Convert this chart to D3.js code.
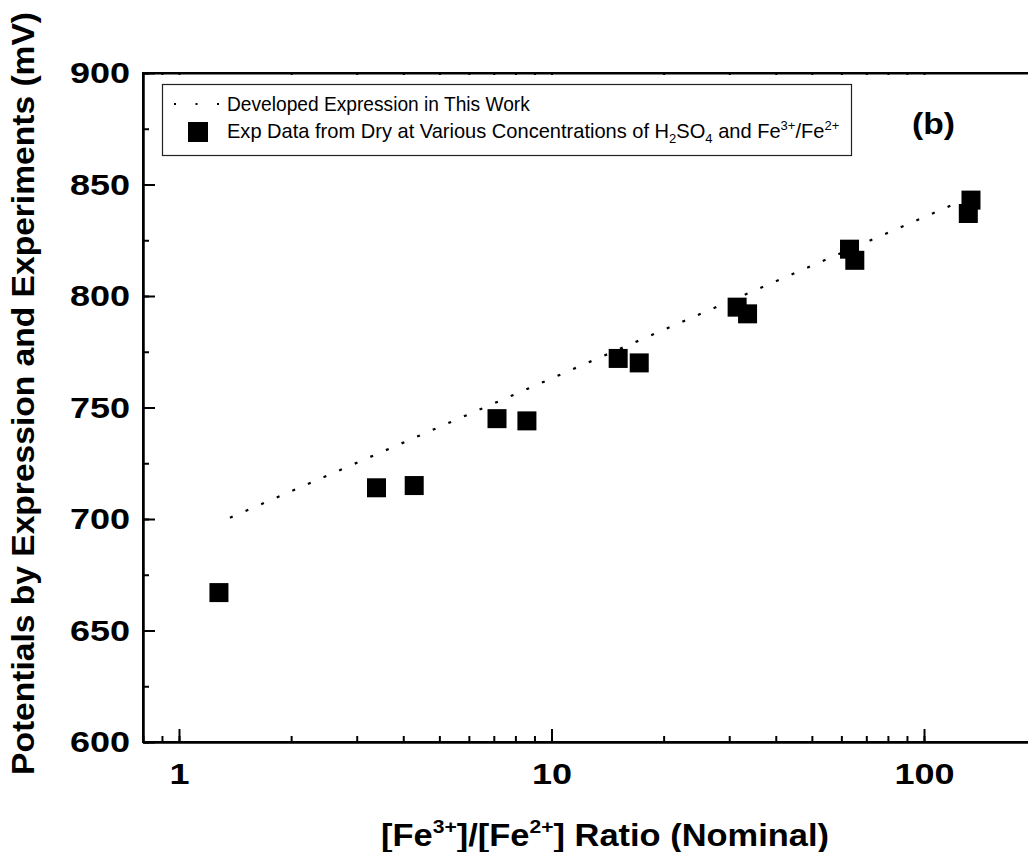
<!DOCTYPE html>
<html><head><meta charset="utf-8">
<script src="https://cdn.jsdelivr.net/npm/d3@7"></script>
<style>
html,body{margin:0;padding:0;background:#fff;}
svg{display:block;font-family:"Liberation Sans",Arial,sans-serif;}
</style></head>
<body>
<svg id="chart" width="1028" height="852"></svg>
<script>
// ---- data ----
const ratio     = [1.28, 3.39, 4.28, 7.14, 8.59, 15.1, 17.2, 31.5, 33.6, 63.1, 65.2, 131.5, 133.7];
const potential = [667, 714, 715, 745, 744, 772, 770, 795, 792, 821, 816, 837, 843];
const exprRatio     = [1.37, 133];
const exprPotential = [700.6, 844.3];
const xTickValues = [1, 10, 100];
const yTickValues = [600, 650, 700, 750, 800, 850, 900];
const xDomain = [0.8, 200];
const yDomain = [600, 900];

const svg = d3.select("#chart");
const plotLeft = 143, plotTop = 73, plotBottom = 742;
const decade = 372.5;
const x = d3.scaleLog().domain(xDomain)
  .range([179 + decade*Math.log10(xDomain[0]), 179 + decade*Math.log10(xDomain[1])]);
const y = d3.scaleLinear().domain(yDomain).range([plotBottom, plotTop]);

// horizontally stretch a text element to a target width, keeping its anchor point
function fitWidth(sel, target) {
  sel.each(function() {
    const w = this.getBBox().width;
    const bb = this.getBBox();
    const anchor = this.getAttribute("text-anchor") || d3.select(this).style("text-anchor");
    let ax = bb.x;
    if (anchor === "middle") ax = bb.x + bb.width/2;
    else if (anchor === "end") ax = bb.x + bb.width;
    const s = target / w;
    d3.select(this).attr("transform", `translate(${ax},0) scale(${s},1) translate(${-ax},0)`);
  });
}

// minor ticks
const xMinor = [];
for (let d = 0.1; d <= 100; d *= 10) for (let k = 1; k <= 9; k++) { const v = +(d*k).toPrecision(3); if (v >= xDomain[0] && v <= xDomain[1]) xMinor.push(v); }
const yMinor = d3.range(yDomain[0], yDomain[1] + 1, 25);

const g = svg.append("g");

// expression line
g.append("path")
  .datum(exprRatio.map((r,i)=>[r, exprPotential[i]]))
  .attr("d", d3.line().x(d=>x(d[0])).y(d=>y(d[1])))
  .attr("fill","none").attr("stroke","#000").attr("stroke-width",2.2)
  .attr("stroke-dasharray","3,14");

// squares
const sq = 19;
g.selectAll("rect.pt").data(ratio.map((r,i)=>[r, potential[i]])).join("rect")
  .attr("class","pt")
  .attr("x", d=>x(d[0]) - sq/2).attr("y", d=>y(d[1]) - sq/2)
  .attr("width", sq).attr("height", sq).attr("fill","#000");

// axes
const axisW = 2;
const xAxis = svg.append("g").attr("transform",`translate(0,${plotBottom})`)
  .call(d3.axisBottom(x).tickValues(xMinor).tickSizeInner(-6).tickSizeOuter(0).tickFormat(""));
const xAxisMaj = svg.append("g").attr("transform",`translate(0,${plotBottom})`)
  .call(d3.axisBottom(x).tickValues(xTickValues).tickSizeInner(-13).tickSizeOuter(0).tickPadding(21).tickFormat(d3.format("d")));
const xTop = svg.append("g").attr("transform",`translate(0,${plotTop})`)
  .call(d3.axisTop(x).tickValues(xMinor).tickSizeInner(-2).tickSizeOuter(0).tickFormat(""));
const yAxis = svg.append("g").attr("transform",`translate(${plotLeft},0)`)
  .call(d3.axisLeft(y).tickValues(yMinor).tickSizeInner(-6).tickSizeOuter(0).tickFormat(""));
const yAxisMaj = svg.append("g").attr("transform",`translate(${plotLeft},0)`)
  .call(d3.axisLeft(y).tickValues(yTickValues).tickSizeInner(-12).tickSizeOuter(0).tickPadding(13).tickFormat(d3.format("d")));

[xAxis,xAxisMaj,xTop,yAxis,yAxisMaj].forEach(a=>{
  a.selectAll("path.domain").attr("stroke","#000").attr("stroke-width",axisW);
  a.selectAll("line").attr("stroke","#000").attr("stroke-width",2);
});
[xAxisMaj, yAxisMaj].forEach(a=>{
  a.selectAll("text").attr("font-size",30).attr("font-weight","bold").attr("fill","#000")
    .attr("font-family","Liberation Sans, Arial, sans-serif")
    .attr("transform", function(){ const tx = +this.getAttribute("x") || 0; return `translate(${tx},0) scale(1.2,1) translate(${-tx},0)`; });
});
svg.append("line").attr("x1",plotLeft).attr("x2",1028).attr("y1",plotBottom).attr("y2",plotBottom).attr("stroke","#000").attr("stroke-width",axisW);
svg.append("line").attr("x1",plotLeft).attr("x2",1028).attr("y1",plotTop).attr("y2",plotTop).attr("stroke","#000").attr("stroke-width",axisW);
svg.append("line").attr("x1",plotLeft).attr("x2",plotLeft).attr("y1",plotTop-1).attr("y2",plotBottom+1).attr("stroke","#000").attr("stroke-width",axisW);

// axis titles
const xt = svg.append("text").attr("x",605).attr("y",846).attr("text-anchor","middle")
  .attr("font-size",31).attr("font-weight","bold").attr("fill","#000");
xt.append("tspan").text("[Fe");
xt.append("tspan").attr("font-size",19).attr("dy",-13).text("3+");
xt.append("tspan").attr("dy",13).text("]/[Fe");
xt.append("tspan").attr("font-size",19).attr("dy",-13).text("2+");
xt.append("tspan").attr("dy",13).text("] Ratio (Nominal)");
fitWidth(xt, 448);

svg.append("text").attr("transform","translate(34,393.5) rotate(-90)").attr("text-anchor","middle")
  .attr("font-size",31).attr("font-weight","bold").attr("fill","#000")
  .attr("textLength",763).attr("lengthAdjust","spacingAndGlyphs")
  .text("Potentials by Expression and Experiments (mV)");

// legend
svg.append("rect").attr("x",162.5).attr("y",84.5).attr("width",689).attr("height",71)
  .attr("fill","#fff").attr("stroke","#222").attr("stroke-width",1.2);
svg.append("line").attr("x1",174).attr("x2",222).attr("y1",104).attr("y2",104)
  .attr("stroke","#000").attr("stroke-width",2).attr("stroke-dasharray","2,19.5");
svg.append("rect").attr("x",188).attr("y",122).attr("width",20).attr("height",20).attr("fill","#000");
const l1 = svg.append("text").attr("x",227).attr("y",111).attr("font-size",20).attr("fill","#000")
  .text("Developed Expression in This Work");
fitWidth(l1, 304);
const l2 = svg.append("text").attr("x",227).attr("y",138).attr("font-size",20).attr("fill","#000");
l2.append("tspan").text("Exp Data from Dry at Various Concentrations of H");
l2.append("tspan").attr("font-size",13).attr("dy",5).text("2");
l2.append("tspan").attr("dy",-5).text("SO");
l2.append("tspan").attr("font-size",13).attr("dy",5).text("4");
l2.append("tspan").attr("dy",-5).text(" and Fe");
l2.append("tspan").attr("font-size",13).attr("dy",-8).text("3+");
l2.append("tspan").attr("dy",8).text("/Fe");
l2.append("tspan").attr("font-size",13).attr("dy",-8).text("2+");
fitWidth(l2, 613);

const lb = svg.append("text").attr("x",912).attr("y",134).attr("font-size",30).attr("font-weight","bold")
  .attr("fill","#000").text("(b)");
fitWidth(lb, 43);
</script>
</body></html>
